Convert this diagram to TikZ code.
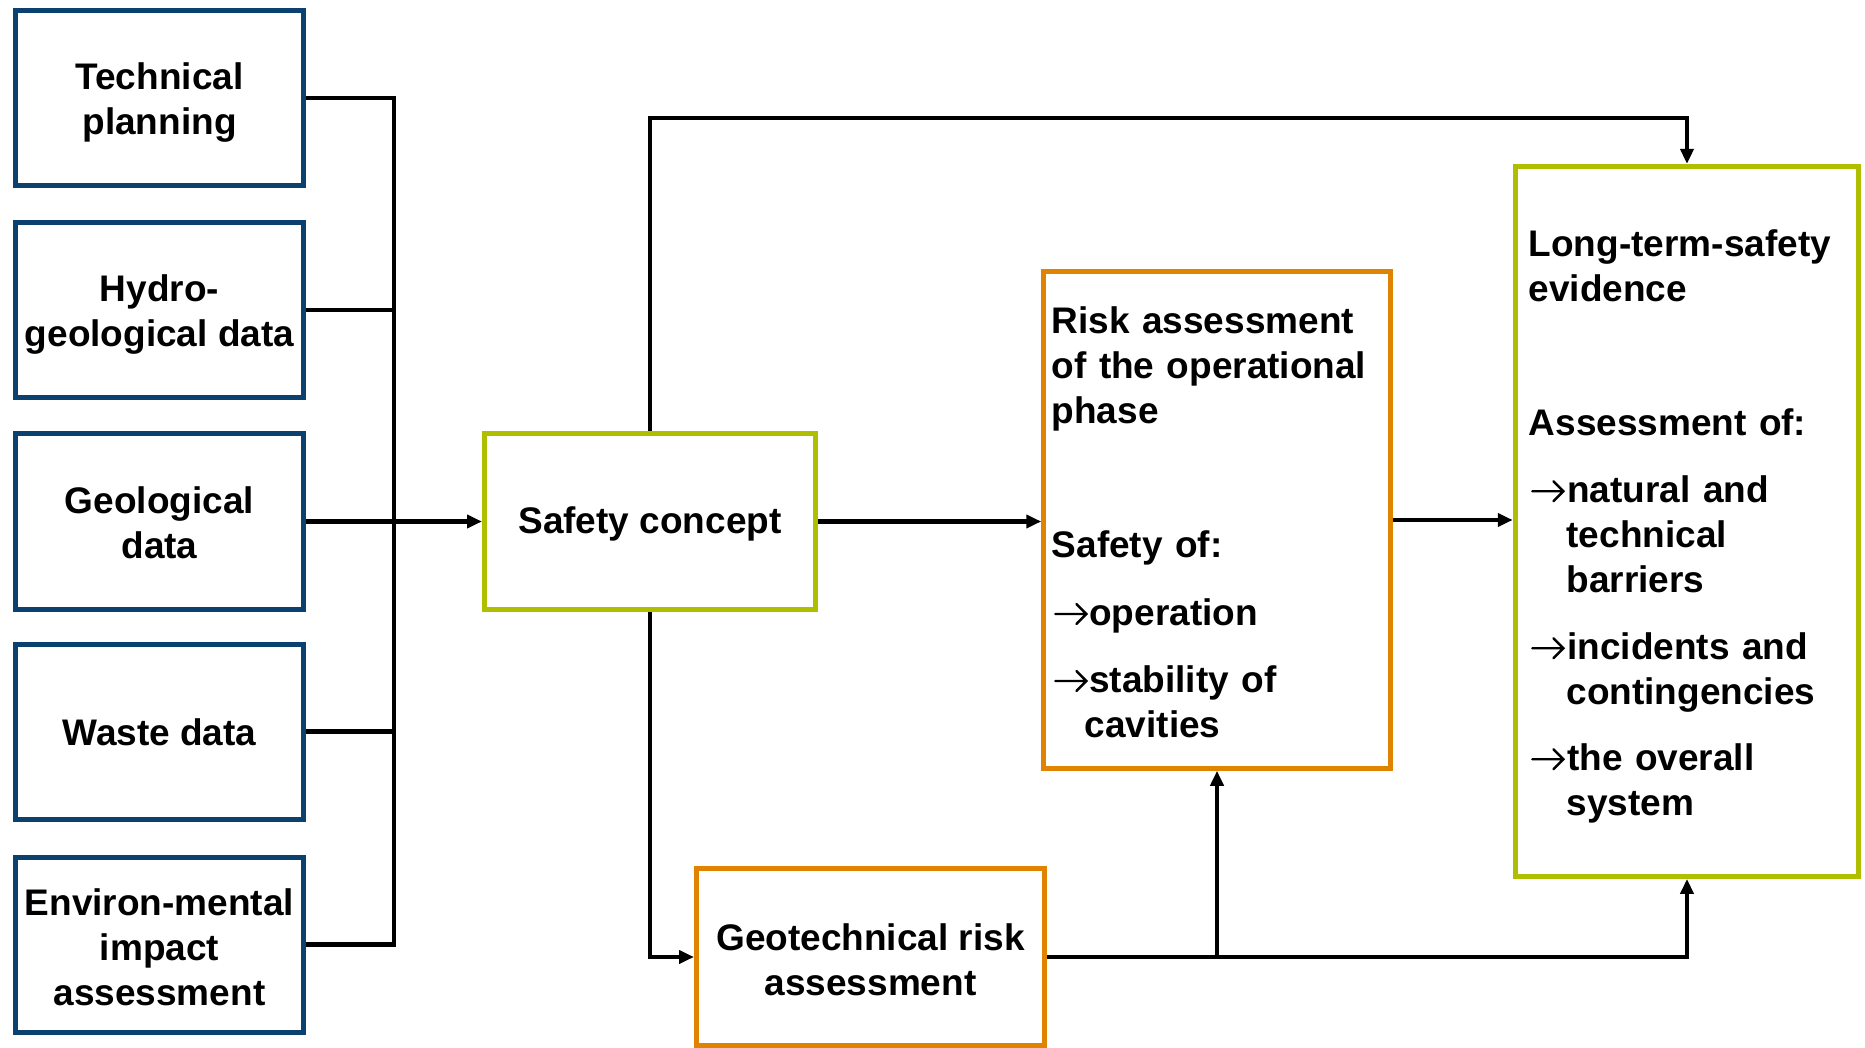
\documentclass[tikz,border=0pt]{standalone}
\usepackage{fontspec}
\setmainfont{Liberation Sans}
\usetikzlibrary{arrows.meta}
\definecolor{boxblue}{HTML}{0B416E}
\definecolor{boxgreen}{HTML}{AFBF00}
\definecolor{boxorange}{HTML}{E08300}
\newcommand\myarr[1]{\makebox[#1][l]{\hspace{1.2pt}\tikz[baseline=0pt,x=1pt,y=1pt]{\draw[black,line width=1.2pt,line cap=round,line join=miter] (0,5.5) -- (15.5,5.5) (10.5,0.5) -- (15.5,5.5) -- (10.5,10.5);}}}
\begin{document}
\begin{tikzpicture}[x=0.5pt,y=-0.5pt,
  mybox/.style={draw, line width=2.5pt, inner sep=0pt, fill=white},
  inbox/.style={mybox, draw=boxblue, minimum width=144pt, minimum height=87.5pt},
  txt/.style={inner sep=0pt, font=\bfseries\fontsize{18.5pt}{22.5pt}\selectfont, align=center},
  conn/.style={line width=2.2pt, black, line join=miter},
  flow/.style={conn, -{Triangle[length=7.5pt,width=6.5pt]}}]
\useasboundingbox (0,0) rectangle (1865,1048);

% left input boxes
\node[inbox] (tech)  at (159.5,98)    {};
\node[inbox] (hydro) at (159.5,310)   {};
\node[inbox] (geol)  at (159.5,521.5) {};
\node[inbox] (waste) at (159.5,731.5) {};
\node[inbox] (env)   at (159.5,944.5) {};
\node[txt] (tech-t)  at ([yshift=-2.4pt]tech.center)  {Technical\\planning};
\node[txt] (hydro-t) at ([yshift=-2.4pt]hydro.center) {Hydro-\\geological data};
\node[txt] (geol-t)  at ([yshift=-0.6pt]geol.center)  {Geological\\data};
\node[txt] (waste-t) at ([yshift=-0.6pt]waste.center) {Waste data};
\node[txt] (env-t)   at ([yshift=-1.2pt]env.center)   {Environ-mental\\impact\\assessment};

% central boxes
\node[mybox, draw=boxgreen, minimum width=165.5pt, minimum height=88pt] (safety) at (650,521.5) {};
\node[txt] (safety-t) at ([yshift=-1.2pt]safety.center) {Safety concept};
\node[mybox, draw=boxorange, minimum width=174pt, minimum height=88.5pt] (geot) at (870.5,957) {};
\node[txt] (geot-t) at ([yshift=-1.2pt]geot.center) {Geotechnical risk\\assessment};

\node[mybox, draw=boxorange, minimum width=173.25pt, minimum height=248.25pt] (risk) at (1217,520) {};
\node[txt, text width=165.25pt, align=left] (risk-t) at ([yshift=-0.9pt]risk.center)
{Risk assessment\\of the operational\\phase\\[44.5pt]
Safety of:\\[11.5pt]
\myarr{18.75pt}operation\\[11pt]
\myarr{18.75pt}stability of\\
\hspace*{16.5pt}cavities};

\node[mybox, draw=boxgreen, minimum width=171.75pt, minimum height=355pt] (long) at (1687,521.4) {};
\node[txt, text width=158.25pt, align=left] (long-t) at ([yshift=-2.4pt]long.center)
{Long-term-safety\\evidence\\[44.5pt]
Assessment of:\\[11pt]
\myarr{19.3pt}natural and\\
\hspace*{18.9pt}technical\\
\hspace*{18.9pt}barriers\\[11pt]
\myarr{19.3pt}incidents and\\
\hspace*{18.9pt}contingencies\\[10.5pt]
\myarr{19.3pt}the overall\\
\hspace*{18.9pt}system};

% connectors
\coordinate (bus) at (394,521.5);
\draw[conn] (tech.east) -| (bus);
\draw[conn] (hydro.east) -| (bus);
\draw[conn] (waste.east) -| (bus);
\draw[conn] (env.east) -| (bus);
\draw[flow] (geol.east) -- (safety.west);

\draw[flow] (safety.east) -- (safety.east -| risk.west);
\draw[flow] (risk.east) -- (risk.east -| long.west);

\coordinate (topc) at (1687,118);
\draw[flow] (safety.north) |- (topc) -- (long.north);
\draw[flow] (safety.south) |- (geot.west);
\draw[flow] (geot.east) -| (long.south);
\coordinate (branch) at (geot.east -| risk.south);
\draw[flow] (branch) -- (risk.south);
\end{tikzpicture}
\end{document}
